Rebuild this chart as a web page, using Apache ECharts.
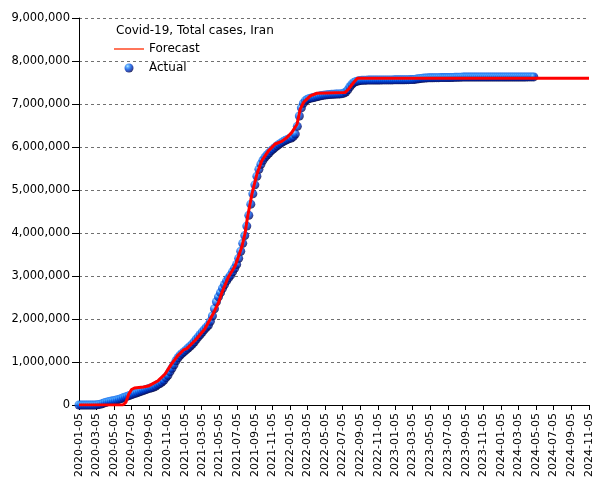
<!DOCTYPE html>
<html>
<head>
<meta charset="utf-8">
<script src="https://cdn.jsdelivr.net/npm/echarts@6/dist/echarts.min.js"></script>
<style>
html,body{margin:0;padding:0;background:#fff;}
#chart{width:605px;height:480px;}
</style>
</head>
<body>
<div id="chart"></div>
<script>
// ---- Data ----
const titleText = 'Covid-19, Total cases, Iran';
const seriesNames = ['Forecast', 'Actual'];
const axisStart = '2020-01-05';
const axisEnd = '2024-11-05';
const yTicks = [0, 1000000, 2000000, 3000000, 4000000, 5000000, 6000000, 7000000, 8000000, 9000000];

// Actual: weekly observations (thousands of cases), starting 2020-01-05, one value per week
const actualStart = '2020-01-05';
const actual2020 = [0,0,0,0, 0,0,0,0.04, 1,6.6,13.9,21.6,38.3, 58.2,71.7,82.2,90.5, 97.4,107.6,120.2,135.7,151.5,
  171.8,187.4,205,222.7, 240.4,257.3,273.8,291.2, 309.4,326.7,341.1,356.8,373.6, 388.8,402,419,443.1,
  475.7,500.1,534.6,574.9, 635.2,692.9,775.1,854.4,935.8, 1029,1098.5,1158.2,1200.5];
const actual2021 = [1240.6,1280.4,1324.6,1367,1411.7, 1466.4,1529,1585,1640, 1698,1754,1806,1855, 1945,2070,2239,2400,
  2516,2612,2714,2802,2886, 2956,3020,3100,3180, 3270,3410,3575,3760, 3940,4160,4410,4670,4910,
  5120,5320,5480,5600, 5690,5760,5815,5860,5910, 5950,5990,6030,6065, 6095,6125,6150,6175];
const actual2022 = [6195,6210,6240,6300,6480, 6720,6910,7020,7080, 7110,7130,7140,7150, 7160,7175,7185,7195,
  7205,7212,7218,7222,7225, 7228,7230,7232,7235, 7240,7252,7280,7330,7400, 7460,7500,7522,7535,
  7545,7550,7553,7555, 7556,7557,7557,7558,7558, 7559,7559,7560,7560, 7560,7561,7561,7561];
const actual2023 = [7562,7563,7563,7564,7564, 7565,7566,7566,7567, 7568,7572,7580,7588, 7595,7600,7603,7606,7608,
  7610,7611,7612,7613, 7613,7614,7614,7615, 7615,7616,7617,7618,7620, 7622,7624,7625,7626,
  7626,7627,7627,7627, 7627,7627,7627,7628,7628, 7628,7628,7628,7628, 7628,7628,7628,7628,7628];
const actual2024 = [7628,7628,7629,7629, 7629,7629,7629,7629, 7629,7629,7629,7629,7629, 7630,7630,7630,7630];

// Forecast: [date, thousands of cases]
const forecastDates = ['2020-01-05','2020-06-05','2020-06-15','2020-06-25','2020-07-05','2020-07-15','2020-08-15','2020-09-01',
  '2020-09-15','2020-10-05','2020-10-29','2020-11-20','2020-12-12','2021-01-01','2021-01-12','2021-02-10','2021-03-15',
  '2021-04-14','2021-05-02','2021-05-13','2021-06-05','2021-06-29','2021-07-22','2021-08-02','2021-08-10','2021-08-26',
  '2021-09-12','2021-09-29','2021-10-22','2021-11-14','2021-12-07','2021-12-25','2022-01-11','2022-01-29','2022-02-09',
  '2022-02-21','2022-03-16','2022-04-08','2022-07-15','2022-07-27','2022-08-13','2022-08-26','2024-11-05'];
const forecastValues = [0,0,60,250,360,395,420,440,
  490,565,720,950,1150,1280,1310,1500,1760,
  2130,2380,2600,2970,3240,3680,3990,4350,4910,
  5370,5680,5910,6070,6130,6220,6340,6530,6880,
  7040,7190,7250,7270,7350,7500,7600,7600];

// ---- helpers ----
function parse(d){const p=d.split('-').map(Number);return Date.UTC(p[0],p[1]-1,p[2]);}
function fmt(t){const d=new Date(t);const m=d.getUTCMonth()+1, dd=d.getUTCDate();
  return d.getUTCFullYear()+'-'+(m<10?'0':'')+m+'-'+(dd<10?'0':'')+dd;}
const DAY=86400000;
const categories=[];
for(let t=parse(axisStart);t<=parse(axisEnd);t+=DAY) categories.push(fmt(t));

const actualValues = actual2020.concat(actual2021, actual2022, actual2023, actual2024);
const actualData = actualValues.map((v,i)=>[fmt(parse(actualStart)+i*7*DAY), v*1000]);
const forecastData = forecastDates.map((d,i)=>[d, forecastValues[i]*1000]);

function showLabel(idx, val){
  const p = val.split('-');
  return p[2]==='05' && (Number(p[1])%2===1);
}
function fmtNum(v){return String(v).replace(/\B(?=(\d{3})+(?!\d))/g, ',');}

const sphere = new echarts.graphic.RadialGradient(0.35, 0.3, 0.75, [
  {offset:0, color:'#a8e4ff'},
  {offset:0.2, color:'#40a0ff'},
  {offset:0.5, color:'#0050e0'},
  {offset:0.8, color:'#001a90'},
  {offset:1, color:'#000030'}
]);

const chart = echarts.init(document.getElementById('chart'), null, {renderer:'canvas'});
chart.setOption({
  animation:false,
  backgroundColor:'#fff',
  textStyle:{fontFamily:'DejaVu Sans'},
  title:{text:titleText, left:116, top:25, padding:0,
    textStyle:{fontSize:12, fontWeight:'normal', color:'#000', fontFamily:'DejaVu Sans'}},
  legend:{
    orient:'vertical', left:114, top:43, padding:0, itemWidth:30, itemHeight:9, itemGap:7,
    textStyle:{fontSize:12, color:'#000', fontFamily:'DejaVu Sans'},
    data:[
      {name:seriesNames[0], icon:'path://M0,0L30,0L30,1.3L0,1.3Z', itemStyle:{color:'#ff2a00'}},
      {name:seriesNames[1], icon:'circle', itemStyle:{color:sphere}}
    ]
  },
  grid:{left:79, right:16, top:18, bottom:75, containLabel:false},
  xAxis:{
    type:'category', data:categories, boundaryGap:false,
    axisLine:{show:true, lineStyle:{color:'#000', width:1}},
    axisTick:{show:true, interval:showLabel, length:5, lineStyle:{color:'#000'}},
    axisLabel:{show:true, interval:showLabel, rotate:90, fontSize:11, color:'#000', margin:8, fontFamily:'DejaVu Sans'},
    splitLine:{show:false}
  },
  yAxis:{
    type:'value', min:yTicks[0], max:yTicks[yTicks.length-1], interval:yTicks[1]-yTicks[0],
    axisLine:{show:true, lineStyle:{color:'#000', width:1}},
    axisTick:{show:true, length:7, lineStyle:{color:'#000'}},
    axisLabel:{fontSize:11.5, color:'#000', margin:9, formatter:fmtNum, fontFamily:'DejaVu Sans'},
    splitLine:{show:true, lineStyle:{color:'#707070', type:[3,3], width:1}}
  },
  series:[
    {name:seriesNames[1], type:'scatter', data:actualData, symbol:'circle', symbolSize:9,
      itemStyle:{color:sphere}, z:2},
    {name:seriesNames[0], type:'line', data:forecastData, showSymbol:false, symbol:'none',
      lineStyle:{color:'#ff0000', width:3}, itemStyle:{color:'#ff0000'}, z:3}
  ]
});
</script>
</body>
</html>
